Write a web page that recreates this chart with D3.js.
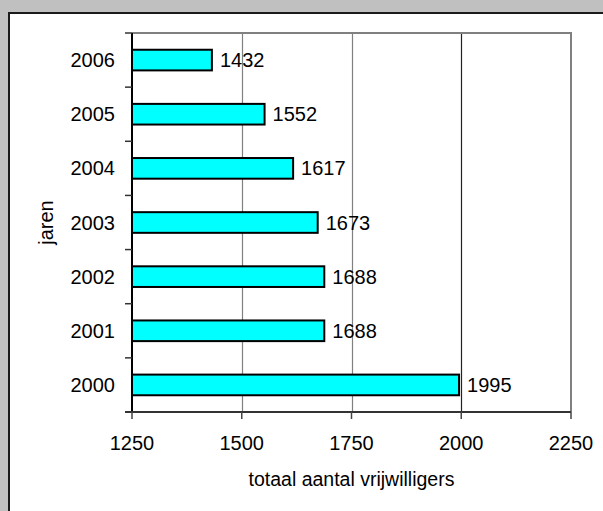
<!DOCTYPE html>
<html><head><meta charset="utf-8">
<script src="https://cdn.jsdelivr.net/npm/d3@7"></script>
<style>html,body{margin:0;padding:0;background:#c0c0c0;}svg{display:block;}</style>
</head><body>
<script>
const years = ["2006","2005","2004","2003","2002","2001","2000"];
const values = [1432,1552,1617,1673,1688,1688,1995];
const xTicks = [1250,1500,1750,2000,2250];
const xTitle = "totaal aantal vrijwilligers";
const yTitle = "jaren";

const W = 603, H = 511;
const font = "'Liberation Sans', Arial, sans-serif";
const svg = d3.select("body").append("svg").attr("width", W).attr("height", H);
svg.append("rect").attr("width", W).attr("height", H).attr("fill", "#c0c0c0");
svg.append("rect").attr("x", 9).attr("y", 13).attr("width", 700).attr("height", 600)
  .attr("fill", "#fff").attr("stroke", "#1a1a1a").attr("stroke-width", 2);

const L = 132, R = 571, T = 33, B = 412;
const x = d3.scaleLinear().domain([1250, 2250]).range([L, R]);
const y = d3.scaleBand().domain(years).range([T, B]).paddingInner(0.6).paddingOuter(0.3);
const step = y.step();

// gridlines
svg.selectAll("line.grid").data(xTicks.slice(1, -1)).join("line")
  .attr("x1", d => Math.round(x(d)) + 0.5).attr("x2", d => Math.round(x(d)) + 0.5)
  .attr("y1", T).attr("y2", B)
  .attr("stroke", d => d === 2000 ? "#222" : "#808080").attr("stroke-width", 1.2);
// plot border top/right
svg.append("path").attr("d", `M${L},${T}H${R}V${B}`).attr("fill", "none")
  .attr("stroke", "#808080").attr("stroke-width", 2);

// bars
svg.selectAll("rect.bar").data(years).join("rect")
  .attr("x", x(1250)).attr("y", d => y(d) + 0.5)
  .attr("width", (d, i) => x(values[i]) - x(1250)).attr("height", y.bandwidth() - 1)
  .attr("fill", "#00ffff").attr("stroke", "#000").attr("stroke-width", 2);

// value labels
svg.selectAll("text.val").data(years).join("text")
  .attr("x", (d, i) => x(values[i]) + 8).attr("y", d => y(d) + y.bandwidth() / 2 + 7)
  .attr("font-family", font).attr("font-size", 20).attr("fill", "#000")
  .text((d, i) => values[i]);

// y axis
svg.append("line").attr("x1", L).attr("x2", L).attr("y1", T).attr("y2", B)
  .attr("stroke", "#000").attr("stroke-width", 2);
const yBounds = d3.range(years.length + 1).map(i => T + i * step);
svg.selectAll("line.yt").data(yBounds).join("line")
  .attr("x1", L - 7).attr("x2", L).attr("y1", d => d).attr("y2", d => d)
  .attr("stroke", "#333").attr("stroke-width", 1.5);
svg.selectAll("text.yl").data(years).join("text")
  .attr("x", 115).attr("y", d => y(d) + y.bandwidth() / 2 + 7)
  .attr("text-anchor", "end").attr("font-family", font).attr("font-size", 20)
  .text(d => d);

// x axis
svg.append("line").attr("x1", L - 7).attr("x2", R).attr("y1", B).attr("y2", B)
  .attr("stroke", "#333").attr("stroke-width", 2);
svg.selectAll("line.xt").data(xTicks).join("line")
  .attr("x1", d => x(d)).attr("x2", d => x(d)).attr("y1", B).attr("y2", B + 7)
  .attr("stroke", "#444").attr("stroke-width", 1.5);
svg.selectAll("text.xl").data(xTicks).join("text")
  .attr("x", d => x(d)).attr("y", 450)
  .attr("text-anchor", "middle").attr("font-family", font).attr("font-size", 20)
  .text(d => d);

svg.append("text").attr("x", (L + R) / 2).attr("y", 486)
  .attr("text-anchor", "middle").attr("font-family", font).attr("font-size", 19.5)
  .text(xTitle);
svg.append("text").attr("transform", `translate(52.5,${(T + B) / 2}) rotate(-90)`)
  .attr("text-anchor", "middle").attr("font-family", font).attr("font-size", 20)
  .text(yTitle);
</script>
</body></html>
